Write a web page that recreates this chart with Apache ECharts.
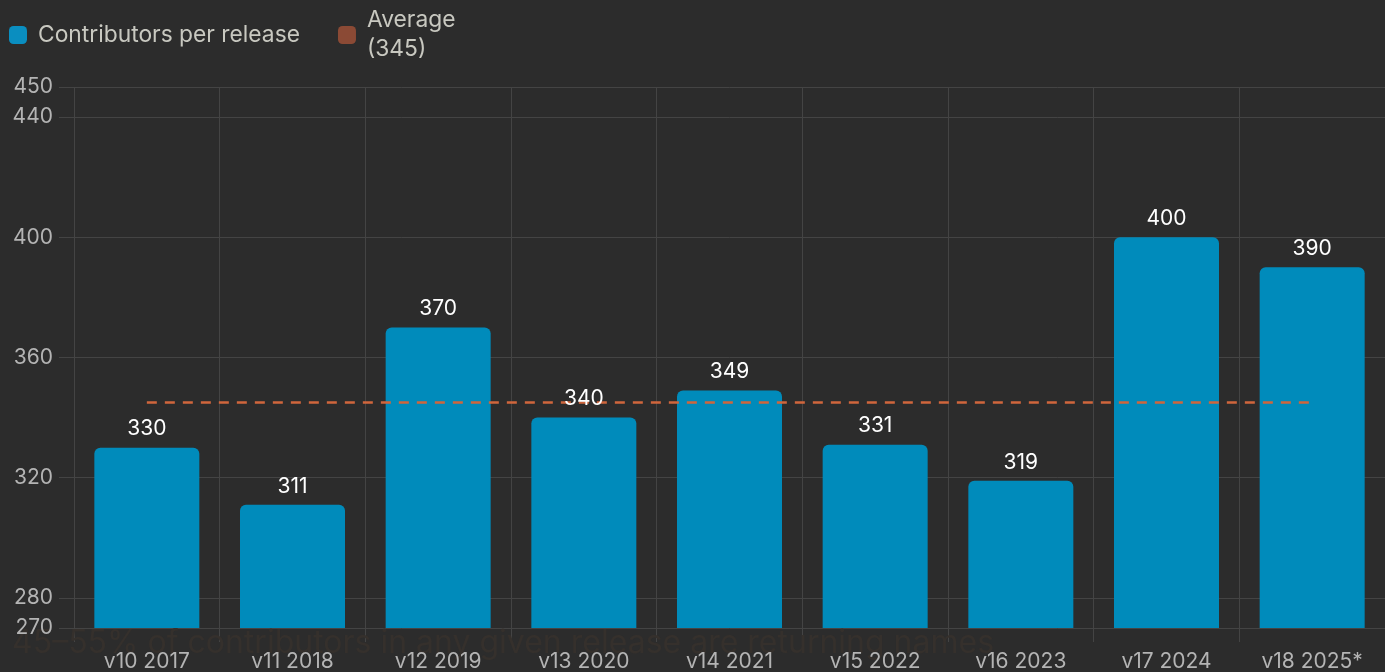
<!DOCTYPE html>
<html>
<head>
<meta charset="utf-8">
<script src="https://cdn.jsdelivr.net/npm/echarts@6/dist/echarts.min.js"></script>
<style>
html,body{margin:0;padding:0;background:#2c2c2c;}
#c{width:1385px;height:672px;}
</style>
</head>
<body>
<div id="c"></div>
<script>
const categories = ['v10 2017','v11 2018','v12 2019','v13 2020','v14 2021','v15 2022','v16 2023','v17 2024','v18 2025*'];
const contributors = [330, 311, 370, 340, 349, 331, 319, 400, 390];
const averageValue = 345;
const averageLine = [345, 345, 345, 345, 345, 345, 345, 345, 345];
const yTicks = [270, 280, 320, 360, 400, 440, 450];
const seriesNames = ['Contributors per release', 'Average\n(345)'];
const footnote = '45–55% of contributors in any given release are returning names';

const FONT = 'Inter, "Liberation Sans", Arial, sans-serif';
const GRID = '#444444';
const chart = echarts.init(document.getElementById('c'), null, {renderer: 'canvas'});
chart.setOption({
  backgroundColor: '#2c2c2c',
  animation: false,
  textStyle: {fontFamily: FONT},
  title: {
    text: footnote,
    left: 12,
    top: 627,
    padding: 0,
    z: 0,
    textStyle: {fontFamily: FONT, fontSize: 32, fontWeight: 'normal', color: '#35302c'}
  },
  legend: {
    left: 4,
    top: 1,
    itemWidth: 18,
    itemHeight: 18,
    itemGap: 38,
    icon: 'roundRect',
    textStyle: {color: '#c8c8c0', fontSize: 22.8, lineHeight: 29, fontFamily: FONT, padding: [0, 0, 0, 6]},
    data: [
      {name: seriesNames[0], itemStyle: {color: '#0a8ec0'}},
      {name: seriesNames[1], itemStyle: {color: '#8b4a35'}}
    ]
  },
  grid: {left: 74, right: -5, top: 87, bottom: 44, containLabel: false},
  xAxis: {
    type: 'category',
    data: categories,
    axisLine: {show: false},
    axisTick: {show: true, length: 14, interval: 0, lineStyle: {color: GRID}},
    splitLine: {show: true, interval: 0, lineStyle: {color: GRID}},
    axisLabel: {color: '#b4b4b4', fontSize: 21, margin: 23, fontFamily: FONT, interval: 0}
  },
  yAxis: {
    type: 'value',
    min: 270,
    max: 450,
    axisLine: {show: false},
    axisTick: {show: true, length: 15, customValues: yTicks, lineStyle: {color: GRID}},
    splitLine: {show: true, customValues: yTicks, lineStyle: {color: GRID}},
    axisLabel: {color: '#b4b4b4', fontSize: 21, margin: 21, fontFamily: FONT, customValues: yTicks}
  },
  series: [
    {
      name: seriesNames[0],
      type: 'bar',
      data: contributors,
      barWidth: 105,
      barGap: '-100%',
      z: 2,
      itemStyle: {color: '#008bbb', borderRadius: [6, 6, 0, 0]}
    },
    {
      name: seriesNames[1],
      type: 'line',
      data: averageLine,
      symbol: 'none',
      itemStyle: {color: '#8b4a35'},
      lineStyle: {color: '#d0663c', width: 2.5, type: [10, 8]},
      z: 3
    },
    {
      name: 'labels',
      type: 'bar',
      data: contributors,
      barWidth: 105,
      barGap: '-100%',
      z: 4,
      silent: true,
      itemStyle: {color: 'rgba(0,0,0,0)'},
      label: {show: true, position: 'top', distance: 8, color: '#ffffff', fontSize: 21, fontFamily: FONT}
    }
  ]
});
</script>
</body>
</html>
